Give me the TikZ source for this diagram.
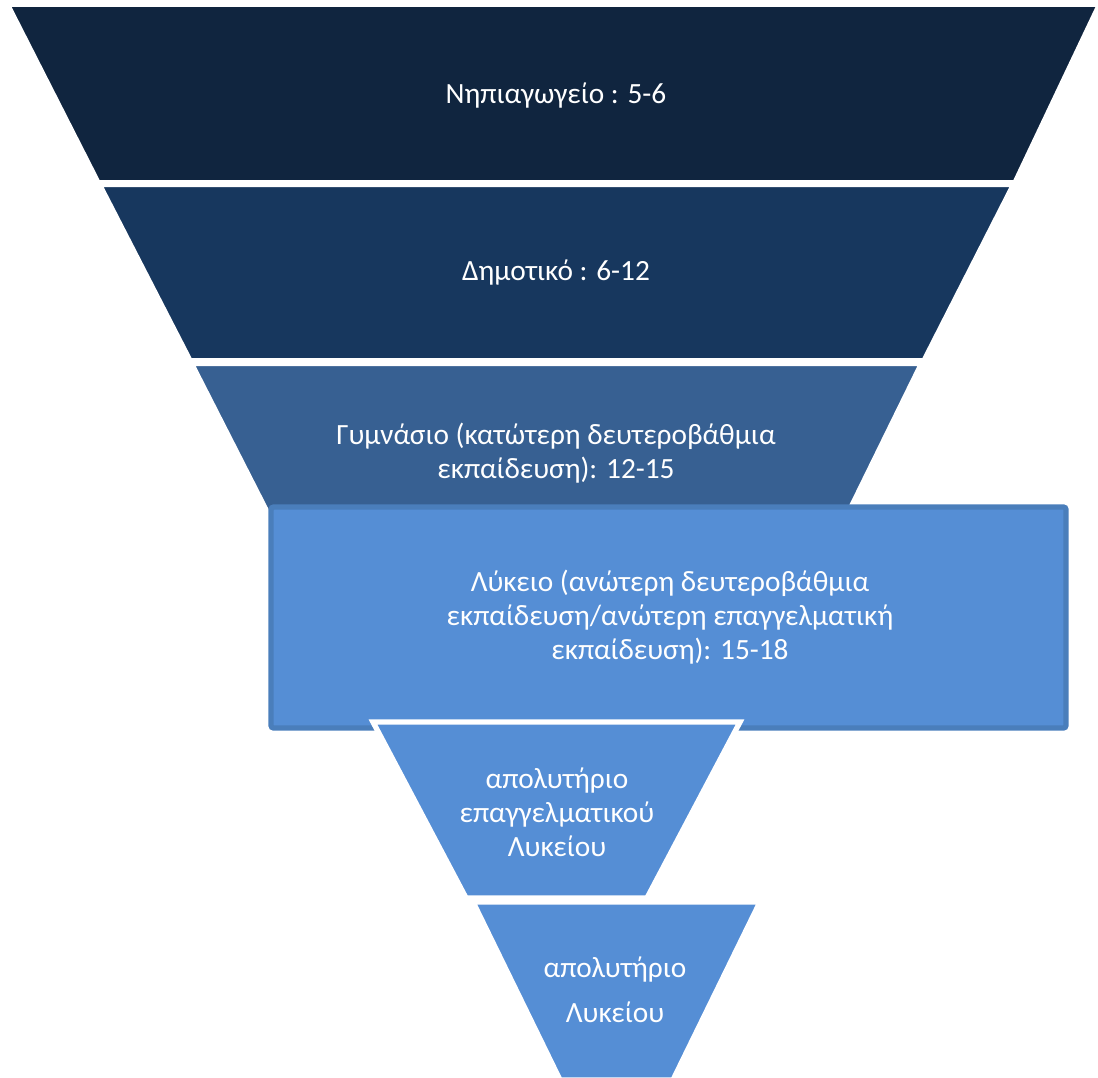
\documentclass[tikz,border=0pt]{standalone}
\usepackage{fontspec}
\setmainfont{Carlito}
\usepackage{tikz}

\definecolor{lvlone}{RGB}{16,37,63}
\definecolor{lvltwo}{RGB}{23,55,94}
\definecolor{lvlthree}{RGB}{55,96,146}
\definecolor{lvlfour}{RGB}{85,142,213}
\definecolor{boxedge}{RGB}{74,126,187}

\tikzset{
  lbl/.style={text=white, align=center, font=\fontsize{22}{25.5}\selectfont, inner sep=0pt},
  slice/.style={draw=white, line width=1.5}
}

\begin{document}
\begin{tikzpicture}[x=0.75pt,y=0.75pt,yscale=-1,xscale=1]
\useasboundingbox (0,0) rectangle (1098,1077);

%Shape: Trapezoid
\draw [slice, fill=lvlone] (10,6) -- (1097,6) -- (1014,181) -- (99,181) -- cycle ;
%Shape: Trapezoid
\draw [slice, fill=lvltwo] (102,186) -- (1011,186) -- (923,359) -- (191,359) -- cycle ;
%Shape: Trapezoid
\draw [slice, fill=lvlthree] (194,365) -- (919,365) -- (843,520) -- (273,520) -- cycle ;
%Shape: Rectangle
\draw [draw=boxedge, fill=lvlfour, line width=4, rounded corners=2] (271,507) rectangle (1066,728) ;
%Shape: Trapezoid
\draw [draw=white, line width=4, fill=lvlfour] (373,722) -- (740,722) -- (647,898) -- (466,898) -- cycle ;
%Shape: Trapezoid
\draw [draw=white, line width=4, fill=lvlfour] (473,902) -- (760,902) -- (673,1080) -- (560,1080) -- cycle ;

\node [lbl] (kinder) at (556,96) {Νηπιαγωγείο : 5-6};
\node [lbl] (primary) at (556,273) {Δημοτικό : 6-12};
\node [lbl] (gymnasio) at (556,453) {Γυμνάσιο (κατώτερη δευτεροβάθμια\\εκπαίδευση): 12-15};
\node [lbl] (lykeio) at (670,617) {Λύκειο (ανώτερη δευτεροβάθμια\\εκπαίδευση/ανώτερη επαγγελματική\\εκπαίδευση): 15-18};
\node [lbl] (epal) at (557,812) {απολυτήριο\\επαγγελματικού\\Λυκείου};
\node [lbl, font=\fontsize{22}{34}\selectfont] (genlyk) at (615,990) {απολυτήριο\\Λυκείου};

\end{tikzpicture}
\end{document}
